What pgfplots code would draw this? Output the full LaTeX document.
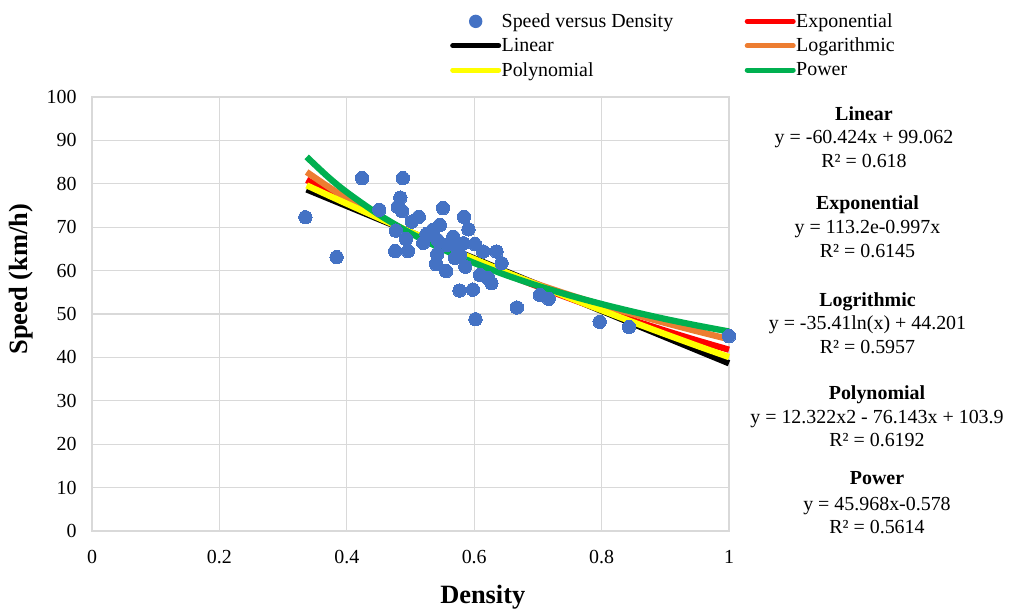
\documentclass[border=0pt]{standalone}
\usepackage{fontspec}
\setmainfont{Liberation Serif}
\usepackage{pgfplots}
\pgfplotsset{compat=1.18}

\definecolor{ptblue}{HTML}{4472C4}
\definecolor{gridgray}{HTML}{D9D9D9}
\definecolor{expred}{HTML}{FF0000}
\definecolor{logorange}{HTML}{ED7D31}
\definecolor{polyyellow}{HTML}{FFFF00}
\definecolor{powgreen}{HTML}{00B050}

\newcommand{\bodyfont}{\fontsize{20}{24}\selectfont}

\begin{document}
\begin{tikzpicture}
\useasboundingbox (-92bp,-81bp) rectangle (917bp,531bp);
\begin{axis}[
  at={(0,0)}, anchor=south west,
  width=637bp, height=434bp, scale only axis,
  xmin=0, xmax=1, ymin=0, ymax=100,
  xtick={0,0.2,0.4,0.6,0.8,1},
  ytick={0,10,20,30,40,50,60,70,80,90,100},
  grid=major,
  major grid style={draw=gridgray, line width=1.3bp},
  axis line style={draw=gridgray, line width=1.3bp},
  major tick length=0pt,
  tick label style={font=\bodyfont},
  /pgf/number format/assume math mode=true,
  xticklabel style={anchor=base, yshift=-32bp},
  yticklabel style={anchor=east, xshift=-12bp},
  xlabel={Density},
  xlabel style={at={(axis description cs:0.6135,-0.1666)}, anchor=base,
    font=\fontsize{26.5}{30}\selectfont\bfseries},
  ylabel={Speed (km/h)},
  ylabel style={at={(axis description cs:-0.1005,0.58)}, anchor=base,
    font=\fontsize{26.5}{30}\selectfont\bfseries},
  clip=false,
  legend style={at={(0.562,1.1935)}, anchor=north west, draw=none, fill=none,
    font=\bodyfont, inner sep=0pt, row sep=8bp,
    nodes={inner sep=0.5bp},
    /tikz/every even column/.append style={column sep=71bp}},
  legend columns=2,
  legend cell align=left,
  trend/.style={line width=6.3bp, forget plot},
]

% observations
\addplot[only marks, color=ptblue, mark=*, mark size=6.7bp,
  mark options={draw=ptblue, fill=ptblue, line width=0pt}, forget plot]
  coordinates {
  (0.335,72.3) (0.384,63.1) (0.424,81.3) (0.451,74.0) (0.476,64.5)
  (0.477,69.2) (0.480,74.7) (0.484,76.8) (0.487,73.7) (0.488,81.3)
  (0.493,67.3) (0.496,64.5) (0.502,71.3) (0.513,72.4) (0.520,66.4)
  (0.525,68.4) (0.535,69.4) (0.540,61.5) (0.542,67.1) (0.542,63.8)
  (0.546,70.5) (0.551,74.4) (0.556,59.9) (0.557,65.9) (0.567,67.8)
  (0.570,62.9) (0.573,65.4) (0.577,55.4) (0.578,63.6) (0.583,66.3)
  (0.584,72.4) (0.586,60.9) (0.591,69.5) (0.598,55.6) (0.601,66.1)
  (0.602,48.8) (0.609,59.0) (0.614,64.4) (0.622,58.3) (0.627,57.1)
  (0.635,64.4) (0.643,61.7) (0.667,51.5) (0.703,54.4) (0.717,53.5)
  (0.797,48.2) (0.843,47.0) (1.000,44.9)
  };

% linear trend
\addplot[trend, black] coordinates {(0.337,78.70) (1.00,38.64)};

% exponential trend
\addplot[trend, expred, smooth] coordinates {
  (0.337,80.90) (0.37,78.28) (0.40,75.97) (0.45,72.28) (0.50,68.76)
  (0.55,65.42) (0.60,62.24) (0.65,59.21) (0.70,56.33) (0.75,53.59)
  (0.80,50.99) (0.85,48.51) (0.90,46.15) (0.95,43.90) (1.00,41.77)};

% logarithmic trend
\addplot[trend, logorange, smooth] coordinates {
  (0.337,82.72) (0.37,79.41) (0.40,76.65) (0.45,72.48) (0.50,68.75)
  (0.55,65.37) (0.60,62.29) (0.65,59.46) (0.70,56.83) (0.75,54.39)
  (0.80,52.10) (0.85,49.96) (0.90,47.93) (0.95,46.02) (1.00,44.20)};

% polynomial trend
\addplot[trend, polyyellow, smooth] coordinates {
  (0.337,79.64) (0.37,77.41) (0.40,75.41) (0.45,72.13) (0.50,68.91)
  (0.55,65.75) (0.60,62.65) (0.65,59.61) (0.70,56.64) (0.75,53.72)
  (0.80,50.87) (0.85,48.08) (0.90,45.35) (0.95,42.68) (1.00,40.08)};

% power trend
\addplot[trend, powgreen, smooth] coordinates {
  (0.337,86.20) (0.37,81.66) (0.40,78.06) (0.45,72.93) (0.50,68.62)
  (0.55,64.94) (0.60,61.76) (0.65,58.96) (0.70,56.49) (0.75,54.28)
  (0.80,52.30) (0.85,50.50) (0.90,48.85) (0.95,47.35) (1.00,45.97)};

% legend
\addlegendimage{legend image code/.code={
  \path[draw=none] (0bp,0bp) -- (48bp,0bp);
  \path[draw=none, fill=ptblue] (24bp,0bp) circle (6.7bp);}}
\addlegendentry{Speed versus Density}
\addlegendimage{legend image code/.code={
  \draw[expred, line width=5bp, line cap=round] (1bp,0bp) -- (47bp,0bp);}}
\addlegendentry{Exponential}
\addlegendimage{legend image code/.code={
  \draw[black, line width=5bp, line cap=round] (1bp,0bp) -- (47bp,0bp);}}
\addlegendentry{Linear}
\addlegendimage{legend image code/.code={
  \draw[logorange, line width=5bp, line cap=round] (1bp,0bp) -- (47bp,0bp);}}
\addlegendentry{Logarithmic}
\addlegendimage{legend image code/.code={
  \draw[polyyellow, line width=5bp, line cap=round] (1bp,0bp) -- (47bp,0bp);}}
\addlegendentry{Polynomial}
\addlegendimage{legend image code/.code={
  \draw[powgreen, line width=5bp, line cap=round] (1bp,0bp) -- (47bp,0bp);}}
\addlegendentry{Power}
\end{axis}

% fitted equations beside the plot
\begin{scope}[every node/.style={anchor=base, inner sep=0pt, font=\bodyfont}]
  \node at (772bp,410bp) {\textbf{Linear}};
  \node at (772bp,387.5bp) {y = -60.424x + 99.062};
  \node at (772bp,363.5bp) {R² = 0.618};

  \node at (775.5bp,321bp) {\textbf{Exponential}};
  \node at (775.5bp,297.5bp) {y = 113.2e-0.997x};
  \node at (775.5bp,273.5bp) {R² = 0.6145};

  \node at (775.5bp,224.5bp) {\textbf{Logrithmic}};
  \node at (775.5bp,201bp) {y = -35.41ln(x) + 44.201};
  \node at (775.5bp,177.5bp) {R² = 0.5957};

  \node at (785bp,131bp) {\textbf{Polynomial}};
  \node at (785bp,107.5bp) {y = 12.322x2 - 76.143x + 103.9};
  \node at (785bp,84bp) {R² = 0.6192};

  \node at (785bp,46bp) {\textbf{Power}};
  \node at (785bp,21bp) {y = 45.968x-0.578};
  \node at (785bp,-2bp) {R² = 0.5614};
\end{scope}
\end{tikzpicture}
\end{document}
